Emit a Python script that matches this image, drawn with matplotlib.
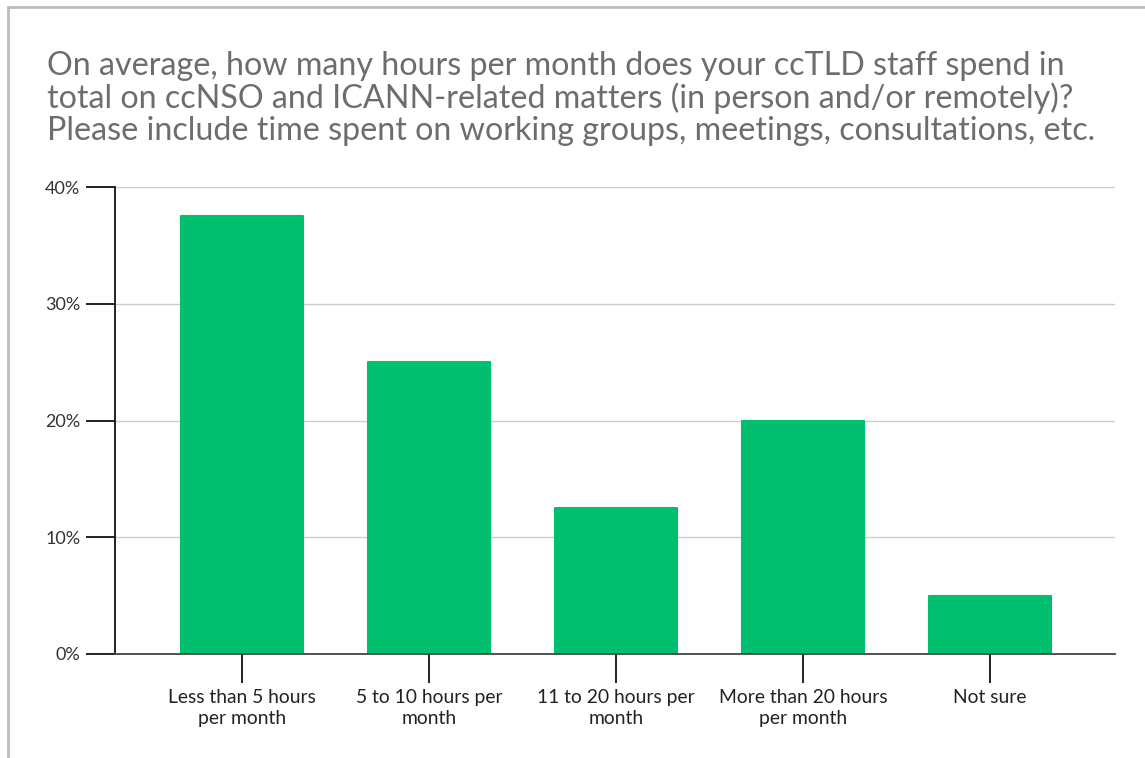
import matplotlib.pyplot as plt
from matplotlib.patches import Rectangle
from matplotlib.ticker import FuncFormatter

plt.rcParams["font.family"] = ["Lato", "DejaVu Sans"]

categories = ["Less than 5 hours\nper month", "5 to 10 hours per\nmonth",
              "11 to 20 hours per\nmonth", "More than 20 hours\nper month", "Not sure"]
values = [37.5, 25.0, 12.5, 20.0, 5.0]
yticks = [0, 10, 20, 30, 40]

title = ("On average, how many hours per month does your ccTLD staff spend in\n"
         "total on ccNSO and ICANN-related matters (in person and/or remotely)?\n"
         "Please include time spent on working groups, meetings, consultations, etc.")

BAR_COLOR = "#00BF6F"

fig = plt.figure(figsize=(11.45, 7.58), dpi=100)
# light frame around the whole card
fig.patches.append(Rectangle((8 / 1145, -0.01), 1.2, 1 - 7 / 758 + 0.01,
                             transform=fig.transFigure, fill=False,
                             edgecolor="#bdbdbd", linewidth=2))

ax = fig.add_axes([115 / 1145, 1 - 654 / 758, 1000 / 1145, 467 / 758])
x = range(len(categories))
ax.bar(x, values, width=0.65, color=BAR_COLOR, edgecolor=BAR_COLOR,
       linewidth=1.5, joinstyle="round", zorder=3)

ax.set_xlim(-0.68, 4.67)
ax.set_ylim(0, 40)
ax.set_yticks(yticks)
ax.yaxis.set_major_formatter(FuncFormatter(lambda v, _: f"{v:.0f}%"))
ax.set_xticks(list(x))
ax.set_xticklabels(categories, fontsize=13.9, color="#222222", linespacing=1.3)
ax.tick_params(axis="y", length=21, width=1.3, color="#111111", labelsize=13,
               labelcolor="#333333", pad=4)
ax.tick_params(axis="x", length=21, width=1.3, color="#111111", pad=4)

ax.grid(axis="y", color="#cccccc", linewidth=1, zorder=0)
for s in ["top", "right"]:
    ax.spines[s].set_visible(False)
ax.spines["left"].set_color("#111111")
ax.spines["left"].set_linewidth(1.3)
ax.spines["bottom"].set_color("#444444")
ax.spines["bottom"].set_linewidth(1.3)
ax.spines["bottom"].set_zorder(4)

fig.text(47 / 1145, 1 - 51 / 758, title, fontsize=23.2, color="#6d6d6d",
         va="top", ha="left", linespacing=1.07)

fig.savefig("out.png", dpi=100)
